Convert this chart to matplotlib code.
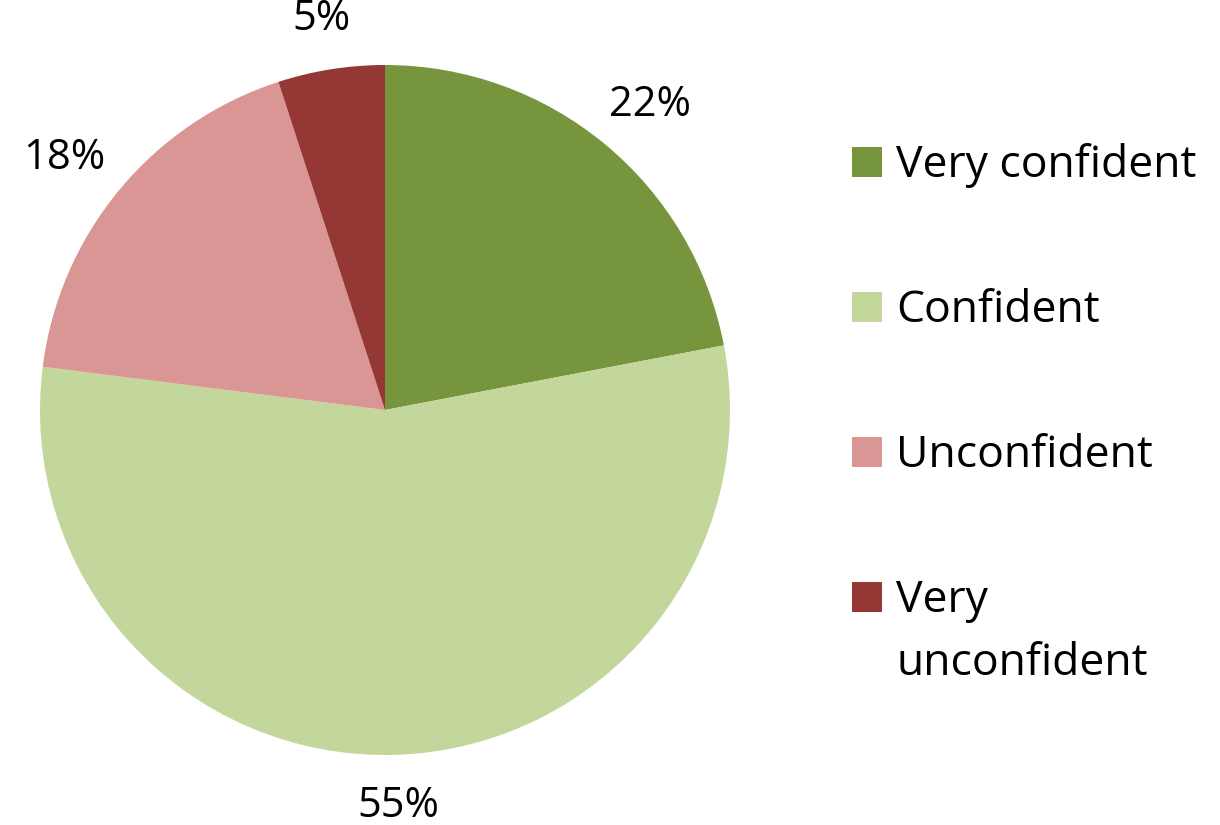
import numpy as np
import matplotlib.pyplot as plt
from matplotlib.patches import Rectangle

plt.rcParams['font.family'] = ['Open Sans', 'DejaVu Sans']

# Data
categories = ['Very confident', 'Confident', 'Unconfident', 'Very unconfident']
legend_labels = ['Very confident', 'Confident', 'Unconfident', 'Very\nunconfident']
shares = [22, 55, 18, 5]
colors = ['#77953D', '#C3D69B', '#D99694', '#953735']

W, H = 1220, 825
fig = plt.figure(figsize=(W / 100, H / 100), dpi=100)

# Pie axes: centre (385, 410) px, radius 345 px
cx, cy, r = 385, 410, 345
ax = fig.add_axes([(cx - r) / W, (H - cy - r) / H, 2 * r / W, 2 * r / H])
wedges, texts, autotexts = ax.pie(
    shares, colors=colors, startangle=90, counterclock=False,
    autopct='%1.0f%%', pctdistance=1.2, radius=1,
    wedgeprops=dict(linewidth=0),
    textprops=dict(fontsize=30, color='black'),
)
ax.set_xlim(-1, 1)
ax.set_ylim(-1, 1)
ax.set_aspect('equal')
ax.axis('off')

# Place each percentage just outside the rim (like "outside end" labels)
fig.canvas.draw()
renderer = fig.canvas.get_renderer()
centre_disp = ax.transData.transform((0, 0))
rad_px = ax.transData.transform((1, 0))[0] - centre_disp[0]
gap = 30
for wdg, t in zip(wedges, autotexts):
    ang = np.deg2rad((wdg.theta1 + wdg.theta2) / 2)
    bb = t.get_window_extent(renderer)
    c, s = np.cos(ang), np.sin(ang)
    px = centre_disp[0] + c * (rad_px + gap) + c * bb.width / 2
    py = centre_disp[1] + s * (rad_px + gap) + s * bb.height / 2
    t.set_position(ax.transData.inverted().transform((px, py)))
    t.set_ha('center')
    t.set_va('center')
    t.set_clip_on(False)

# Legend drawn by hand: square spans the cap height of the first line
base0, step, line_gap, cap = 177, 145, 63, 30
for i, (lab, col) in enumerate(zip(legend_labels, colors)):
    base = base0 + i * step
    fig.patches.append(Rectangle((852 / W, 1 - base / H), 30 / W, cap / H,
                                 transform=fig.transFigure, facecolor=col,
                                 edgecolor='none'))
    for k, line in enumerate(lab.split('\n')):
        fig.text(896 / W, 1 - (base + k * line_gap) / H, line, fontsize=32,
                 va='baseline', ha='left')

plt.savefig('out.png', dpi=100)
